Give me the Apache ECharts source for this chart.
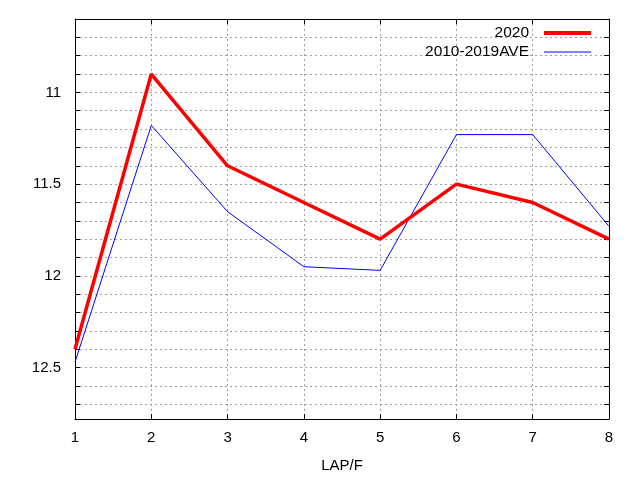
<!DOCTYPE html>
<html><head><meta charset="utf-8">
<script src="https://cdn.jsdelivr.net/npm/echarts@6/dist/echarts.min.js"></script>
<style>html,body{margin:0;padding:0;background:#fff}#c{width:640px;height:480px}</style>
</head><body><div id="c"></div>
<script>
var laps = [1, 2, 3, 4, 5, 6, 7, 8];
var series2020 = [12.40, 10.90, 11.40, 11.60, 11.80, 11.50, 11.60, 11.80];
var seriesAve = [12.47, 11.18, 11.65, 11.95, 11.97, 11.23, 11.23, 11.73];
var names = ['2020', '2010-2019AVE'];
var xName = 'LAP/F';

var chart = echarts.init(document.getElementById('c'));
var font = 'Liberation Sans, Arial, sans-serif';
function pairs(v){ return laps.map(function(x,i){return [x, v[i]];}); }
var gridLine = {show:true, lineStyle:{color:'#a0a0a0', type:[2,3], width:1}};
var tick = {show:true, inside:true, length:5, lineStyle:{color:'#000'}};
var axLine = {show:true, onZero:false, lineStyle:{color:'#000', width:1}};
chart.setOption({
  animation:false,
  grid:{left:75, right:31, top:19, bottom:61, containLabel:false},
  legend:[
    {data:[{name:names[0], icon:'rect'}], orient:'vertical', align:'right', right:49, top:25, padding:0,
     itemWidth:47, itemHeight:4, textStyle:{fontFamily:font, fontSize:15.5, color:'#000', padding:[0,10,0,0]}},
    {data:[{name:names[1], icon:'rect'}], orient:'vertical', align:'right', right:49, top:44, padding:0,
     itemWidth:47, itemHeight:1, textStyle:{fontFamily:font, fontSize:15.5, color:'#000', padding:[0,10,0,0]}}
  ],
  xAxis:[
    {type:'value', min:1, max:8, interval:1, position:'bottom', axisLine:axLine, axisTick:tick, splitLine:gridLine,
     axisLabel:{fontFamily:font, fontSize:15, color:'#000', margin:11},
     name:xName, nameLocation:'middle', nameGap:39, nameTextStyle:{fontFamily:font, fontSize:15, color:'#000'}},
    {type:'value', min:1, max:8, interval:1, position:'top', axisLine:axLine, axisTick:tick, splitLine:{show:false}, axisLabel:{show:false}}
  ],
  yAxis:[
    {type:'value', inverse:true, min:10.6, max:12.78, interval:0.1, position:'left', axisLine:axLine, axisTick:tick, splitLine:gridLine,
     axisLabel:{fontFamily:font, fontSize:15, color:'#000', margin:14, showMaxLabel:false, showMinLabel:false,
       formatter:function(v){ var r=Math.round(v*10)/10; return Math.abs(r*2-Math.round(r*2))<1e-6 ? String(r) : ''; }}},
    {type:'value', inverse:true, min:10.6, max:12.78, interval:0.1, position:'right', axisLine:axLine, axisTick:tick, splitLine:{show:false}, axisLabel:{show:false}}
  ],
  series:[
    {name:names[1], type:'line', data:pairs(seriesAve), symbol:'none', lineStyle:{color:'#0000ff', width:1}, itemStyle:{color:'#0000ff'}, z:2},
    {name:names[0], type:'line', data:pairs(series2020), symbol:'none', lineStyle:{color:'#ff0000', width:3.5}, itemStyle:{color:'#ff0000'}, z:3}
  ]
});
</script></body></html>
